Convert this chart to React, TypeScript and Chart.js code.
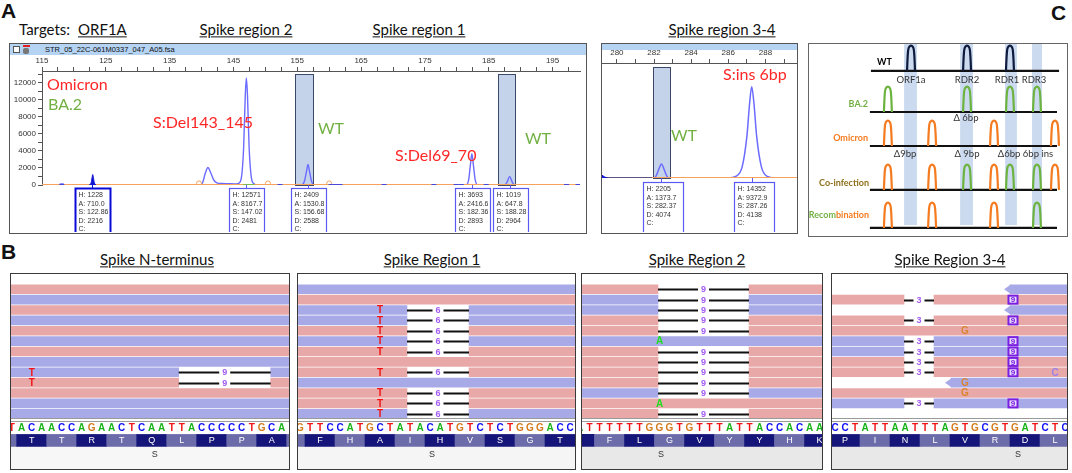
import React, { useEffect, useRef } from 'react';
import { Chart, registerables } from 'chart.js';
Chart.register(...registerables);

const FONT = 'Lato, "Open Sans", sans-serif';
const ARIAL = '"Liberation Sans", Arial, sans-serif';

type Pt = [number, number];

// ---------------- Panel A, left electropherogram ----------------
const A1_X_RANGE: Pt = [115, 199.3];
const A1_Y_MAX = 13400;
const A1_X_LABELS = [115, 125, 135, 145, 155, 165, 175, 185, 195];
const A1_Y_LABELS = [0, 2000, 4000, 6000, 8000, 10000, 12000];
const A1_TRACE: Pt[] = [
  [115, 0], [117.6, 0], [117.9, 110], [118.3, 110], [118.6, 0],
  [139.8, 0], [140.2, 350], [140.6, 1400], [141.0, 2050], [141.4, 1500], [141.9, 600], [142.4, 260],
  [143.2, 170], [144.2, 150], [145.2, 130], [145.8, 200], [146.25, 900], [146.6, 4500], [146.85, 10500],
  [147.02, 12571], [147.2, 10500], [147.45, 4500], [147.8, 900], [148.2, 150], [148.7, 0],
  [155.7, 0], [156.1, 400], [156.42, 1500], [156.68, 2409], [156.94, 1500], [157.25, 400], [157.65, 0],
  [181.45, 0], [181.85, 600], [182.12, 2300], [182.36, 3693], [182.6, 2300], [182.88, 600], [183.3, 0],
  [187.5, 0], [187.88, 350], [188.28, 1019], [188.68, 350], [189.05, 0],
  [199.3, 0],
];
const A1_ORF1A_PEAK: Pt[] = [[122.4, 0], [122.7, 250], [122.85, 900], [122.95, 1228], [123.05, 900], [123.2, 250], [123.5, 0]];
const A1_BA2_TRACE: Pt[] = [[146.5, 0], [148.3, 0]];
const A1_BLIPS = [118.1, 152.3, 160.3, 161.0, 161.7, 168.6, 176.4, 179.9, 180.7, 184.6, 197.2, 199.0];
const A1_ORANGE_DOTS = [139.6, 150.4, 160.0];
const A1_WINDOWS: Pt[] = [[154.7, 157.5], [186.5, 189.1]];
const A1_WINDOW_TOP = 13100;
const A1_PEAK_S = [122.86, 147.02, 156.68, 182.36, 188.28];
const A1_PEAK_H = [1228, 12571, 2409, 3693, 1019];
const A1_PEAK_A = ['710.0', '8167.7', '1530.8', '2416.6', '647.8'];
const A1_PEAK_D = [2216, 2481, 2588, 2893, 2964];

// ---------------- Panel A, right electropherogram ----------------
const A2_X_RANGE: Pt = [279.2, 289.7];
const A2_Y_MAX = 18100;
const A2_X_LABELS = [280, 282, 284, 286, 288];
const A2_TRACE: Pt[] = [
  [279.2, 0], [281.95, 0], [282.1, 250], [282.25, 1300], [282.4, 2205], [282.55, 1300], [282.7, 250], [282.85, 0],
  [286.0, 0], [286.4, 250], [286.75, 1800], [287.0, 6500], [287.15, 11800], [287.26, 14352], [287.38, 11800],
  [287.53, 6500], [287.78, 1800], [288.1, 250], [288.5, 0], [289.7, 0],
];
const A2_EDGE_PEAK: Pt[] = [[279.2, 450], [279.35, 150], [279.5, 0]];
const A2_NOISE: Pt[] = [[279.3, 0], [281.9, 0]];
const A2_WINDOWS: Pt[] = [[281.95, 282.86]];
const A2_WINDOW_TOP = 17500;
const A2_PEAK_S = [282.37, 287.26];
const A2_PEAK_H = [2205, 14352];
const A2_PEAK_A = ['1373.7', '9372.9'];
const A2_PEAK_D = [4074, 4138];

// ---------------- Panel C schematic ----------------
const C_BAND_X: Pt[] = [[37.0, 42.0], [58.8, 63.8], [76.3, 80.9], [86.8, 90.7]];
const C_BAND_Y: Pt = [0.52, 10];
const C_ROW_BASE = [8.59, 6.44, 4.66, 2.36, 0.37];
const C_ROW_LINE: Pt[] = [[24.1, 97.3], [23.7, 96.5], [23.7, 96.5], [23.7, 96.5], [23.7, 96.5]];
const C_PEAK_POS = [
  [39.7, 61.5, 78.2],
  [30.7, 61.5, 78.2, 88.7],
  [30.7, 47.9, 72.0, 95.7],
  [30.7, 47.9, 61.5, 72.0, 78.2, 88.7, 95.7],
  [30.7, 47.9, 72.0, 88.7],
];
const C_PEAK_KIND = [
  ['n', 'n', 'n'],
  ['g', 'g', 'g', 'g'],
  ['o', 'o', 'o', 'o'],
  ['o', 'o', 'g', 'o', 'g', 'g', 'o'],
  ['o', 'o', 'o', 'g'],
];
const C_PEAK_H = 1.3;
const C_PEAK_SHAPE: Pt[] = [[-1.55, 0], [-1.35, 0.5], [-1.05, 0.88], [-0.45, 1], [0.45, 1], [1.05, 0.88], [1.35, 0.5], [1.55, 0]];
const C_COLORS: Record<string, string> = { n: '#0E1B3D', g: '#6DB33F', o: '#F47B20' };

// ---------------- Panel B alignments ----------------
const B1_SEQ = 'TACAACCAGAACTCAATTACCCCCTGCA';
const B1_AA = ['T', 'T', 'R', 'T', 'Q', 'L', 'P', 'P', 'A'];
const B1_READS = 'pbpbpbpbbppbb';
const B1_GAP_ROWS = [8, 9];
const B1_GAP: Pt = [17.2, 26.4];
const B1_SNP_ROWS = [8, 9];
const B1_SNP_POS = [2, 2];
const B1_SNP_BASE = ['T', 'T'];

const B2_SEQ = 'GTTCCATGCTATACATGTCTCTGGGACC';
const B2_AA = ['F', 'H', 'A', 'I', 'H', 'V', 'S', 'G', 'T'];
const B2_READS = 'bpbbpbpppbppb';
const B2_GAP_ROWS = [2, 3, 4, 5, 6, 8, 10, 11, 12];
const B2_GAP: Pt = [11.2, 17.4];
const B2_SNP_ROWS = [2, 3, 4, 5, 6, 8, 10, 11, 12];
const B2_SNP_POS = [8, 8, 8, 8, 8, 8, 8, 8, 8];
const B2_SNP_BASE = ['T', 'T', 'T', 'T', 'T', 'T', 'T', 'T', 'T'];

const B3_SEQ = 'ATTTTTTGGGTGTTTATTACCACAAA';
const B3_AA = ['F', 'L', 'G', 'V', 'Y', 'Y', 'H', 'K'];
const B3_READS = 'pbbppbppppbpp';
const B3_GAP_ROWS = [0, 1, 2, 3, 4, 6, 7, 8, 9, 10, 12];
const B3_GAP: Pt = [8.35, 17.45];
const B3_SNP_ROWS = [5, 11];
const B3_SNP_POS = [8, 8];
const B3_SNP_BASE = ['A', 'A'];

const B4_SEQ = 'CCTATTAATTTAGTGCGTGATCTC';
const B4_AA = ['P', 'I', 'N', 'L', 'V', 'R', 'D', 'L'];
const B4_READS = 'bpbppbbppbpb';
const B4_ARROW_ROWS = [0, 2, 9];
const B4_ARROW_START = [18.0, 18.0, 12.1];
const B4_GAP_ROWS = [1, 3, 5, 6, 7, 8, 11];
const B4_GAP: Pt = [7.4, 10.4];
const B4_INS_ROWS = [1, 3, 5, 6, 7, 8, 11];
const B4_INS_POS = 18.3;
const B4_SNP_ROWS = [4, 9, 10, 8];
const B4_SNP_POS = [13, 13, 13, 22];
const B4_SNP_BASE = ['G', 'G', 'G', 'C'];

const PINK = '#E8A8A8';
const BLUE = '#A8AAE8';
const PURPLE = '#A35CF2';
const SEQ_COLORS: Record<string, string> = { A: '#1AB41A', C: '#1010F5', G: '#D47A1C', T: '#F21414' };
const SNP_COLORS: Record<string, string> = { A: '#22DD22', C: '#9C80E8', G: '#DA8430', T: '#F21414' };
const AA_DARK = '#16167A';
const AA_LIGHT = '#6C6CAA';
const ROW_PX = 11.67;
const AA_Y = 14.57;

const xy = (pts: Pt[]) => pts.map(([x, y]) => ({ x, y }));
const baseOpts = {
  responsive: false,
  animation: false as const,
  devicePixelRatio: 1,
  events: [] as any[],
  plugins: { legend: { display: false }, tooltip: { enabled: false } },
};

function epgConfig(o: any) {
  const deco = {
    id: 'epgDeco',
    beforeDatasetsDraw(chart: any) {
      const { ctx, scales } = chart;
      const xs = scales.x, ys = scales.y;
      ctx.save();
      o.windows.forEach(([a, b]: Pt) => {
        const x0 = Math.round(xs.getPixelForValue(a)) + 0.5;
        const x1 = Math.round(xs.getPixelForValue(b)) + 0.5;
        const y0 = Math.round(ys.getPixelForValue(o.windowTop)) + 0.5;
        const y1 = Math.round(ys.getPixelForValue(0)) + 0.5;
        ctx.fillStyle = '#C4D3EA';
        ctx.fillRect(x0, y0, x1 - x0, y1 - y0);
        ctx.strokeStyle = '#3B4868';
        ctx.lineWidth = 1;
        ctx.strokeRect(x0, y0, x1 - x0, y1 - y0);
      });
      ctx.restore();
    },
    afterDraw(chart: any) {
      const { ctx, scales, chartArea } = chart;
      const xs = scales.x;
      ctx.save();
      o.peakS.forEach((s: number, k: number) => {
        const cx = xs.getPixelForValue(s);
        const left = Math.round(cx - o.boxL) + 0.5;
        const top = Math.round(chartArea.bottom + o.boxGap) + 0.5;
        const strong = k === o.strong;
        ctx.strokeStyle = strong ? '#0A0AD8' : '#5A5AF2';
        ctx.lineWidth = strong ? 2 : 1.2;
        ctx.strokeRect(left, top, o.boxW, chart.height - top + 6);
        ctx.lineWidth = 1;
        ctx.beginPath();
        ctx.moveTo(Math.round(cx) + 0.5, chartArea.bottom);
        ctx.lineTo(Math.round(cx) + 0.5, top);
        ctx.stroke();
        ctx.fillStyle = '#333';
        ctx.font = '7px "Liberation Sans"';
        ctx.textBaseline = 'middle';
        ctx.textAlign = 'left';
        const lines = ['H: ' + o.peakH[k], 'A: ' + o.peakA[k], 'S: ' + s.toFixed(2), 'D: ' + o.peakD[k], 'C:'];
        lines.forEach((t, j) => ctx.fillText(t, left + 3, top + 6.5 + j * 8.6));
      });
      ctx.restore();
    },
  };
  const tickFont = { size: 8, family: '"Liberation Sans"' };
  return {
    type: 'line',
    data: { datasets: o.datasets },
    options: {
      ...baseOpts,
      layout: { padding: { left: 0, right: 0, top: 0, bottom: o.padBottom } },
      scales: {
        x: {
          type: 'linear', position: 'top', min: o.xRange[0], max: o.xRange[1],
          afterBuildTicks: (s: any) => { s.ticks = o.xTicks.map((v: number) => ({ value: v })); },
          afterFit: (s: any) => { s.height = o.xAxisH; },
          grid: { drawOnChartArea: false, drawTicks: true, tickLength: 4, color: '#555', tickColor: '#555' },
          border: { display: true, color: '#555' },
          ticks: { autoSkip: false, maxRotation: 0, padding: 1, color: '#333', font: tickFont,
            callback: (v: number) => (o.xLabels.includes(v) ? String(v) : '') },
        },
        y: {
          type: 'linear', min: 0, max: o.yMax, display: o.showY,
          afterBuildTicks: (s: any) => { s.ticks = (o.yTicks || []).map((v: number) => ({ value: v })); },
          afterFit: (s: any) => { s.width = o.yAxisW; },
          grid: { drawOnChartArea: false, drawTicks: true, tickLength: 4, color: '#555', tickColor: '#555' },
          border: { display: true, color: '#555' },
          ticks: { autoSkip: false, padding: 2, color: '#333', font: tickFont,
            callback: (v: number) => ((o.yLabels || []).includes(v) ? String(v) : '') },
        },
      },
    },
    plugins: [deco],
  };
}

function a1Config() {
  const xTicks: number[] = [];
  for (let v = 115; v <= 197.5; v += 2.5) xTicks.push(v);
  const yTicks: number[] = [];
  for (let v = 0; v <= 13000; v += 1000) yTicks.push(v);
  return epgConfig({
    xRange: A1_X_RANGE, yMax: A1_Y_MAX, xTicks, xLabels: A1_X_LABELS, yTicks, yLabels: A1_Y_LABELS,
    showY: true, xAxisH: 16, yAxisW: 32, padBottom: 47,
    windows: A1_WINDOWS, windowTop: A1_WINDOW_TOP,
    peakS: A1_PEAK_S, peakH: A1_PEAK_H, peakA: A1_PEAK_A, peakD: A1_PEAK_D,
    boxL: 17, boxW: 35, boxGap: 3, strong: 0,
    datasets: [
      { data: xy(A1_TRACE), borderColor: '#6B6BFF', borderWidth: 1.4, pointRadius: 0, cubicInterpolationMode: 'monotone', order: 3 },
      { data: xy([[A1_X_RANGE[0], 0], [A1_X_RANGE[1], 0]]), borderColor: '#F6A25D', borderWidth: 2, pointRadius: 0, order: 2 },
      { data: xy(A1_BA2_TRACE), borderColor: '#7DBA4A', borderWidth: 2, pointRadius: 0, order: 1 },
      { data: xy(A1_ORF1A_PEAK), borderColor: '#1414D4', backgroundColor: '#1414D4', fill: 'origin', borderWidth: 1, pointRadius: 0, cubicInterpolationMode: 'monotone', order: 0 },
      { type: 'scatter', data: A1_BLIPS.map((x) => ({ x, y: 0 })), pointStyle: 'line', pointRadius: 2.5, borderColor: '#4848D8', borderWidth: 2, order: 0 },
      { type: 'scatter', data: A1_ORANGE_DOTS.map((x) => ({ x, y: 180 })), pointStyle: 'circle', pointRadius: 2.5, borderColor: '#F6A25D', backgroundColor: 'rgba(0,0,0,0)', borderWidth: 1, order: 0 },
    ],
  });
}

function a2Config() {
  const xTicks: number[] = [];
  for (let v = 280; v <= 289; v += 1) xTicks.push(v);
  return epgConfig({
    xRange: A2_X_RANGE, yMax: A2_Y_MAX, xTicks, xLabels: A2_X_LABELS,
    showY: false, xAxisH: 13, yAxisW: 0, padBottom: 54,
    windows: A2_WINDOWS, windowTop: A2_WINDOW_TOP,
    peakS: A2_PEAK_S, peakH: A2_PEAK_H, peakA: A2_PEAK_A, peakD: A2_PEAK_D,
    boxL: 18, boxW: 40, boxGap: 4, strong: -1,
    datasets: [
      { data: xy(A2_TRACE), borderColor: '#6B6BFF', borderWidth: 1.5, pointRadius: 0, cubicInterpolationMode: 'monotone', order: 3 },
      { data: xy([[A2_X_RANGE[0], 0], [A2_X_RANGE[1], 0]]), borderColor: '#F6A25D', borderWidth: 2, pointRadius: 0, order: 2 },
      { data: xy(A2_NOISE), borderColor: '#2C3A8C', borderWidth: 1.5, pointRadius: 0, order: 1 },
      { data: xy(A2_EDGE_PEAK), borderColor: '#1414D4', backgroundColor: '#1414D4', fill: 'origin', borderWidth: 1, pointRadius: 0, order: 0 },
    ],
  });
}

function cConfig() {
  const datasets: any[] = [];
  C_BAND_X.forEach(([a, b]) => {
    datasets.push({ data: xy([[a, C_BAND_Y[1]], [b, C_BAND_Y[1]]]), fill: { value: C_BAND_Y[0] }, backgroundColor: '#CBDAEF', borderWidth: 0, pointRadius: 0, order: 10 });
  });
  C_ROW_BASE.forEach((base, r) => {
    datasets.push({ data: xy([[C_ROW_LINE[r][0], base], [C_ROW_LINE[r][1], base]]), borderColor: '#111', borderWidth: 2.2, pointRadius: 0, order: 5 });
    C_PEAK_POS[r].forEach((pos, k) => {
      const shape = C_PEAK_SHAPE.map(([dx, f]) => [pos + dx, base + f * C_PEAK_H] as Pt);
      datasets.push({ data: xy(shape), borderColor: C_COLORS[C_PEAK_KIND[r][k]], borderWidth: 2.2, pointRadius: 0, tension: 0.3, order: 1 });
    });
  });
  return {
    type: 'line',
    data: { datasets },
    options: {
      ...baseOpts,
      layout: { padding: 0 },
      scales: {
        x: { type: 'linear', min: 0, max: 100, display: false },
        y: { type: 'linear', min: 0, max: 10, display: false },
      },
    },
  };
}

function igvConfig(p: any) {
  const xMax = p.xMin + p.width / 10;
  const xLo = p.xMin - 2;
  const xHi = xMax + 2;
  const left: any[] = [], leftC: string[] = [], right: any[] = [], rightC: string[] = [];
  p.reads.split('').forEach((c: string, i: number) => {
    const col = c === 'p' ? PINK : BLUE;
    const ai = p.arrowRows.indexOf(i);
    const start = ai >= 0 ? p.arrowStart[ai] : xLo;
    if (p.gapRows.includes(i)) {
      left.push({ x: [start, p.gap[0]], y: i }); leftC.push(col);
      right.push({ x: [p.gap[1], xHi], y: i }); rightC.push(col);
    } else {
      left.push({ x: [start, xHi], y: i }); leftC.push(col);
    }
  });
  const aaData: any[] = [], aaC: string[] = [];
  const colorOf = (k: number) => (((k % 2 + 2) % 2 === 0) === p.aaFirstDark ? AA_DARK : AA_LIGHT);
  if (p.aaStart > p.xMin) { aaData.push({ x: [xLo, p.aaStart], y: AA_Y }); aaC.push(colorOf(-1)); }
  p.aa.forEach((_: string, k: number) => { aaData.push({ x: [p.aaStart + 3 * k, p.aaStart + 3 * k + 3], y: AA_Y }); aaC.push(colorOf(k)); });
  const end = p.aaStart + 3 * p.aa.length;
  if (end < xMax) { aaData.push({ x: [end, xHi], y: AA_Y }); aaC.push(colorOf(p.aa.length)); }

  const deco = {
    id: 'igvDeco',
    beforeDatasetsDraw(chart: any) {
      const { ctx, scales: { y }, chartArea } = chart;
      ctx.save();
      ctx.fillStyle = '#FFFFFF';
      ctx.fillRect(chartArea.left, chartArea.top, chartArea.width, chartArea.height);
      const gy = y.getPixelForValue(15.08);
      ctx.fillStyle = p.bottomFill;
      ctx.fillRect(chartArea.left, gy, chartArea.width, chartArea.bottom - gy);
      ctx.restore();
    },
    afterDatasetsDraw(chart: any) {
      const { ctx, scales: { x, y }, chartArea } = chart;
      ctx.save();
      ctx.beginPath();
      ctx.rect(chartArea.left, chartArea.top, chartArea.width, chartArea.height);
      ctx.clip();
      const half = 4.5;
      p.arrowRows.forEach((r: number, k: number) => {
        const xs = x.getPixelForValue(p.arrowStart[k]);
        const yc = y.getPixelForValue(r);
        ctx.fillStyle = p.reads[r] === 'p' ? PINK : BLUE;
        ctx.beginPath();
        ctx.moveTo(xs + 0.5, yc - half);
        ctx.lineTo(xs - 6, yc);
        ctx.lineTo(xs + 0.5, yc + half);
        ctx.closePath();
        ctx.fill();
      });
      ctx.textAlign = 'center';
      ctx.textBaseline = 'middle';
      p.gapRows.forEach((r: number) => {
        const yc = Math.round(y.getPixelForValue(r)) + 0.5;
        const x0 = x.getPixelForValue(p.gap[0]);
        const x1 = x.getPixelForValue(p.gap[1]);
        const xm = (x0 + x1) / 2;
        ctx.strokeStyle = '#111';
        ctx.lineWidth = 2;
        ctx.beginPath();
        ctx.moveTo(x0, yc); ctx.lineTo(xm - 5.5, yc);
        ctx.moveTo(xm + 5.5, yc); ctx.lineTo(x1, yc);
        ctx.stroke();
        ctx.fillStyle = PURPLE;
        ctx.font = 'bold 9px "Liberation Sans"';
        ctx.fillText(p.gapLabel, xm, yc + 0.5);
      });
      (p.insRows || []).forEach((r: number) => {
        const yc = y.getPixelForValue(r);
        const xc = x.getPixelForValue(p.insPos);
        ctx.fillStyle = '#7A1FE0';
        ctx.fillRect(xc - 5.5, yc - 5, 11, 10);
        ctx.fillStyle = '#E9DDFF';
        ctx.fillRect(xc - 3.5, yc - 3, 7, 6);
        ctx.fillStyle = '#7A1FE0';
        ctx.font = 'bold 8px "Liberation Sans"';
        ctx.fillText(p.insLabel, xc, yc + 0.5);
      });
      ctx.font = 'bold 10px "Liberation Sans"';
      p.snpRows.forEach((r: number, k: number) => {
        ctx.fillStyle = SNP_COLORS[p.snpBase[k]];
        ctx.fillText(p.snpBase[k], x.getPixelForValue(p.snpPos[k] + 0.5), y.getPixelForValue(r) + 0.5);
      });
      const s0 = y.getPixelForValue(12.42), s1 = y.getPixelForValue(12.72);
      ctx.fillStyle = '#FFFFFF';
      ctx.fillRect(chartArea.left, s0, chartArea.width, y.getPixelForValue(13.95) - s0);
      ctx.strokeStyle = '#9A9A9A';
      ctx.lineWidth = 1;
      ctx.beginPath();
      ctx.moveTo(chartArea.left, Math.round(s0) + 0.5); ctx.lineTo(chartArea.right, Math.round(s0) + 0.5);
      ctx.moveTo(chartArea.left, Math.round(s1) + 0.5); ctx.lineTo(chartArea.right, Math.round(s1) + 0.5);
      ctx.stroke();
      ctx.font = 'bold 10px "Liberation Sans"';
      p.seq.split('').forEach((b: string, i: number) => {
        ctx.fillStyle = SEQ_COLORS[b];
        ctx.fillText(b, x.getPixelForValue(i + 0.5), y.getPixelForValue(13.33) + 0.5);
      });
      ctx.font = '9px "Liberation Sans"';
      ctx.fillStyle = '#FFFFFF';
      p.aa.forEach((a: string, k: number) => {
        ctx.fillText(a, x.getPixelForValue(p.aaStart + 3 * k + 1.5), y.getPixelForValue(AA_Y) + 0.5);
      });
      ctx.fillStyle = '#333';
      ctx.fillText('S', x.getPixelForValue(p.sPos), y.getPixelForValue(15.95));
      ctx.restore();
    },
  };
  return {
    type: 'bar',
    data: {
      datasets: [
        { data: left, backgroundColor: leftC, barThickness: 9, grouped: false, borderWidth: 0 },
        { data: right, backgroundColor: rightC, barThickness: 9, grouped: false, borderWidth: 0 },
        { data: aaData, backgroundColor: aaC, barThickness: 12, grouped: false, borderWidth: 0 },
      ],
    },
    options: {
      ...baseOpts,
      indexAxis: 'y',
      layout: { padding: 0 },
      scales: {
        x: { type: 'linear', min: p.xMin, max: xMax, display: false },
        y: { type: 'linear', reverse: true, min: -0.43, max: -0.43 + p.height / ROW_PX, display: false },
      },
    },
    plugins: [deco],
  };
}

const B_PANELS = [
  { left: 11, width: 278, xMin: 0.43, seq: B1_SEQ, aa: B1_AA, aaStart: 1, aaFirstDark: true, reads: B1_READS,
    gapRows: B1_GAP_ROWS, gap: B1_GAP, gapLabel: '9', snpRows: B1_SNP_ROWS, snpPos: B1_SNP_POS, snpBase: B1_SNP_BASE,
    arrowRows: [], arrowStart: [], sPos: 14.8, bottomFill: '#F7F7F7' },
  { left: 298, width: 277, xMin: 0.3, seq: B2_SEQ, aa: B2_AA, aaStart: 1, aaFirstDark: true, reads: B2_READS,
    gapRows: B2_GAP_ROWS, gap: B2_GAP, gapLabel: '6', snpRows: B2_SNP_ROWS, snpPos: B2_SNP_POS, snpBase: B2_SNP_BASE,
    arrowRows: [], arrowStart: [], sPos: 13.7, bottomFill: '#F5F5F5' },
  { left: 582, width: 240, xMin: 0.75, seq: B3_SEQ, aa: B3_AA, aaStart: 2, aaFirstDark: false, reads: B3_READS,
    gapRows: B3_GAP_ROWS, gap: B3_GAP, gapLabel: '9', snpRows: B3_SNP_ROWS, snpPos: B3_SNP_POS, snpBase: B3_SNP_BASE,
    arrowRows: [], arrowStart: [], sPos: 8.65, bottomFill: '#E8E8E8' },
  { left: 832, width: 235, xMin: 0.2, seq: B4_SEQ, aa: B4_AA, aaStart: 0, aaFirstDark: true, reads: B4_READS,
    gapRows: B4_GAP_ROWS, gap: B4_GAP, gapLabel: '3', snpRows: B4_SNP_ROWS, snpPos: B4_SNP_POS, snpBase: B4_SNP_BASE,
    arrowRows: B4_ARROW_ROWS, arrowStart: B4_ARROW_START, insRows: B4_INS_ROWS, insPos: B4_INS_POS, insLabel: '9',
    sPos: 18.8, bottomFill: '#E8E8E8' },
];

function ChartCanvas({ left, top, width, height, make }: { left: number; top: number; width: number; height: number; make: () => any }) {
  const ref = useRef<HTMLCanvasElement>(null);
  useEffect(() => {
    const chart = new Chart(ref.current as HTMLCanvasElement, make());
    return () => chart.destroy();
  }, []);
  return <canvas ref={ref} width={width} height={height} style={{ position: 'absolute', left, top, width, height }} />;
}

function Txt({ x, y, children, size = 14, color = '#111', bold = false, underline = false, family = FONT, align = 'left' }: any) {
  const tx = align === 'center' ? '-50%' : align === 'right' ? '-100%' : '0';
  return (
    <div style={{ position: 'absolute', left: x, top: y, transform: `translate(${tx},-50%)`, fontFamily: family, fontSize: size,
      color, fontWeight: bold ? 700 : 400, textDecoration: underline ? 'underline' : 'none', whiteSpace: 'nowrap', lineHeight: 1.15 }}>
      {children}
    </div>
  );
}

function Frame({ x, y, w, h, color = '#555' }: any) {
  return <div style={{ position: 'absolute', left: x, top: y, width: w, height: h, border: `1px solid ${color}`, boxSizing: 'border-box', pointerEvents: 'none' }} />;
}

const RED = '#FF2626';
const GREEN = '#72B043';
const ORANGE = '#F47B20';

export default function App() {
  return (
    <div style={{ position: 'fixed', left: 0, top: 0, width: 1072, height: 473, background: '#fff', overflow: 'hidden' }}>
      {/* ---------- A ---------- */}
      <Txt x={1} y={11} size={21} bold family={ARIAL}>A</Txt>
      <Txt x={19} y={30} size={15}>Targets:</Txt>
      <Txt x={78} y={30} size={15} underline>ORF1A</Txt>
      <Txt x={246} y={30} size={15} underline align="center">Spike region 2</Txt>
      <Txt x={419} y={30} size={15} underline align="center">Spike region 1</Txt>
      <Txt x={722} y={30} size={15} underline align="center">Spike region 3-4</Txt>

      <div style={{ position: 'absolute', left: 10, top: 44, width: 576, height: 11, background: '#B5D3F3' }} />
      <div style={{ position: 'absolute', left: 13, top: 46, width: 7, height: 7, background: '#fff', border: '1px solid #555', boxSizing: 'border-box' }} />
      <div style={{ position: 'absolute', left: 23, top: 45, width: 7, height: 2, background: '#E02020' }} />
      <div style={{ position: 'absolute', left: 23, top: 48, width: 6, height: 6, background: '#777', borderRadius: 2 }} />
      <Txt x={45} y={49.5} size={7.5} family={ARIAL} color="#111">STR_05_22C-061M0337_047_A05.fsa</Txt>
      <ChartCanvas left={10} top={55} width={576} height={177} make={a1Config} />
      <Frame x={9} y={43} w={578} h={191} />
      <Txt x={47} y={84} size={16} color={RED}>Omicron</Txt>
      <Txt x={48} y={104} size={16} color={GREEN}>BA.2</Txt>
      <Txt x={153} y={122} size={16} color={RED}>S:Del143_145</Txt>
      <Txt x={318} y={128} size={16} color={GREEN}>WT</Txt>
      <Txt x={395} y={155} size={16} color={RED}>S:Del69_70</Txt>
      <Txt x={525} y={138} size={16} color={GREEN}>WT</Txt>

      <div style={{ position: 'absolute', left: 602, top: 44, width: 195, height: 6, background: '#B5D3F3' }} />
      <ChartCanvas left={602} top={50} width={195} height={182} make={a2Config} />
      <Frame x={601} y={43} w={197} h={191} />
      <Txt x={723} y={74} size={16} color={RED}>S:ins 6bp</Txt>
      <Txt x={671} y={135} size={16} color={GREEN}>WT</Txt>

      {/* ---------- C ---------- */}
      <Txt x={1051} y={13} size={21} bold family={ARIAL}>C</Txt>
      <ChartCanvas left={809} top={44} width={257} height={191} make={cConfig} />
      <Frame x={808} y={43} w={260} h={194} color="#666" />
      <Txt x={877} y={62} size={9} bold color="#000">WT</Txt>
      <Txt x={868} y={104} size={9} bold color={GREEN} align="right">BA.2</Txt>
      <Txt x={868} y={138} size={9} bold color={ORANGE} align="right">Omicron</Txt>
      <Txt x={869} y={183} size={9} bold color="#8F6F1A" align="right">Co-infection</Txt>
      <Txt x={869} y={215} size={9} bold align="right"><span style={{ color: GREEN }}>Recom</span><span style={{ color: ORANGE }}>bination</span></Txt>
      <Txt x={911} y={80} size={9.5} color="#333" align="center">ORF1a</Txt>
      <Txt x={967} y={80} size={9.5} color="#333" align="center">RDR2</Txt>
      <Txt x={1007} y={80} size={9.5} color="#333" align="center">RDR1</Txt>
      <Txt x={1034} y={80} size={9.5} color="#333" align="center">RDR3</Txt>
      <Txt x={966} y={118} size={9.5} color="#333" align="center">Δ 6bp</Txt>
      <Txt x={905} y={154} size={9.5} color="#333" align="center">Δ9bp</Txt>
      <Txt x={967} y={154} size={9.5} color="#333" align="center">Δ 9bp</Txt>
      <Txt x={1009} y={154} size={9.5} color="#333" align="center">Δ6bp</Txt>
      <Txt x={1038} y={154} size={9.5} color="#333" align="center">6bp ins</Txt>

      {/* ---------- B ---------- */}
      <Txt x={1} y={252} size={21} bold family={ARIAL}>B</Txt>
      <Txt x={157} y={260} size={15} underline align="center">Spike N-terminus</Txt>
      <Txt x={432} y={260} size={15} underline align="center">Spike Region 1</Txt>
      <Txt x={697} y={260} size={15} underline align="center">Spike Region 2</Txt>
      <Txt x={950} y={260} size={15} underline align="center">Spike Region 3-4</Txt>
      {B_PANELS.map((p, i) => (
        <React.Fragment key={i}>
          <ChartCanvas left={p.left} top={274} width={p.width} height={195} make={() => igvConfig({ ...p, height: 195 })} />
          <Frame x={p.left - 1} y={273} w={p.width + 2} h={197} color="#3A3A3A" />
        </React.Fragment>
      ))}
    </div>
  );
}
